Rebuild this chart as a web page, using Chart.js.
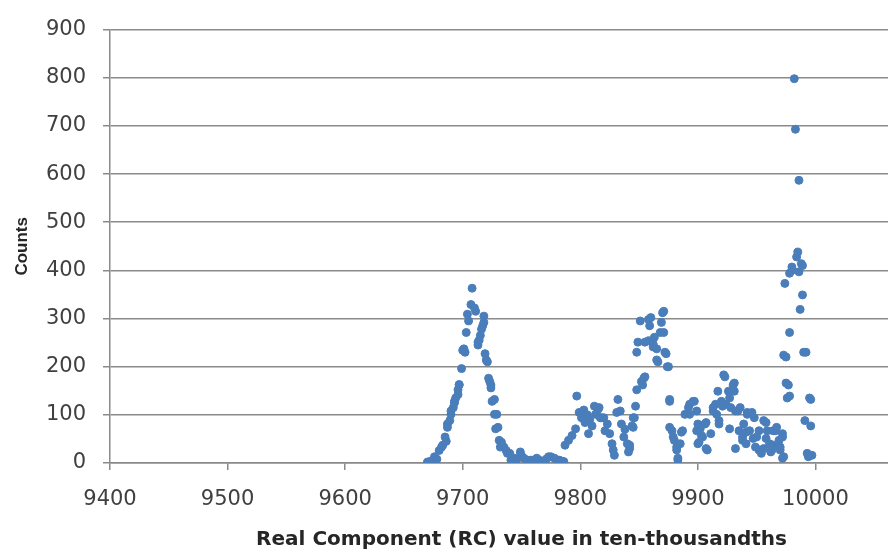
<!DOCTYPE html>
<html>
<head>
<meta charset="utf-8">
<script src="https://cdn.jsdelivr.net/npm/chart.js@4"></script>
<style>
    html, body { margin: 0; padding: 0; background: #fff; overflow: hidden; }
    #wrap { width: 950px; height: 554px; }
</style>
</head>
<body>
<div id="wrap"><canvas id="rcChart" width="950" height="554"></canvas></div>
<script>
// Real Component value (ten-thousandths) and the counts
const rcValues = [
    9670, 9672, 9674, 9676, 9678, 9680, 9682, 9683, 9685, 9686, 9687, 9687, 9689, 9690, 9690, 9692,
    9693, 9693, 9694, 9696, 9696, 9697, 9697, 9699, 9700, 9701, 9702, 9703, 9704, 9705, 9707, 9708,
    9710, 9711, 9713, 9713, 9714, 9715, 9716, 9717, 9718, 9718, 9719, 9720, 9721, 9722, 9723, 9724,
    9724, 9725, 9727, 9727, 9728, 9729, 9730, 9731, 9732, 9733, 9735, 9737, 9738, 9740, 9741,
    9744, 9746, 9749, 9750, 9752, 9755, 9758, 9760, 9763, 9766, 9769, 9771, 9773, 9775, 9778, 9780,
    9782, 9784, 9786, 9787, 9790, 9793, 9796,
    9797, 9799, 9801, 9803, 9804, 9806, 9807, 9808, 9810, 9812, 9813, 9815, 9816, 9817, 9818, 9820,
    9821, 9823, 9825, 9827, 9828, 9829, 9831, 9832, 9834, 9835, 9837, 9838, 9840, 9841, 9842, 9842,
    9844, 9845, 9845, 9846, 9847,
    9848, 9848, 9849, 9851, 9852, 9853, 9854, 9855, 9855, 9858, 9858, 9859, 9860, 9862, 9862, 9863,
    9865, 9865, 9866, 9868, 9869, 9870, 9871, 9871, 9872, 9873, 9874, 9875, 9876, 9876, 9876, 9878,
    9879, 9880, 9882, 9882, 9883, 9883, 9885, 9886, 9887, 9889, 9892, 9893, 9893, 9896, 9897, 9899,
    9899, 9900, 9900, 9901, 9902, 9903,
    9904, 9906, 9907, 9907, 9908, 9911, 9913, 9913, 9915, 9916, 9917, 9918, 9918, 9920, 9921, 9922,
    9923, 9924, 9926, 9927, 9927, 9928, 9930, 9931, 9931, 9932, 9932, 9934, 9935, 9936, 9938, 9938,
    9939, 9941, 9941, 9942, 9942, 9944, 9946, 9947, 9948, 9949, 9950, 9952, 9952, 9954, 9956, 9956,
    9958, 9958, 9959, 9961, 9962, 9963, 9964, 9964,
    9966, 9967, 9969, 9970, 9970, 9972, 9972, 9972, 9973, 9973, 9974, 9975, 9975, 9976, 9977, 9978,
    9978, 9978, 9980, 9980, 9982, 9983, 9984, 9985, 9986, 9986, 9987, 9988, 9989, 9989, 9990, 9991,
    9992, 9993, 9994, 9995, 9996, 9996, 9997
];
const counts = [
    2, 3, 5, 13, 8, 26, 33, 37, 54, 45, 74, 81, 88, 101, 108, 115,
    125, 128, 135, 142, 152, 162, 163, 196, 234, 237, 230, 271, 309, 295, 329, 363,
    322, 315, 245, 251, 255, 265, 278, 285, 305, 292, 227, 214, 210, 176, 169, 162,
    156, 128, 132, 101, 71, 101, 74, 47, 33, 43, 33, 26, 20, 20, 6,
    10, 8, 23, 15, 10, 6, 6, 4, 10, 5, 3, 8, 13, 13, 10, 6,
    6, 4, 3, 37, 47, 57, 71,
    139, 105, 94, 110, 84, 100, 61, 90, 77, 118, 101, 111, 115, 94, 94, 94,
    67, 81, 61, 40, 27, 16, 105, 132, 108, 81, 54, 70, 40, 23, 37, 30,
    77, 74, 94, 94, 118,
    152, 230, 251, 295, 169, 162, 176, 179, 251, 298, 254, 285, 302, 247, 241, 261,
    237, 214, 210, 271, 292, 312, 271, 315, 230, 227, 200, 200, 132, 128, 74, 67,
    54, 47, 33, 27, 6, 10, 40, 64, 67, 101, 115, 122, 101, 128, 128, 108,
    67, 81, 40, 43, 71, 57,
    54, 81, 84, 30, 27, 61, 115, 108, 122, 101, 149, 81, 88, 128, 118, 183,
    179, 122, 149, 135, 71, 115, 162, 166, 149, 108, 30, 108, 67, 115, 54, 47,
    81, 40, 64, 101, 105, 67, 105, 51, 94, 33, 54, 27, 67, 20, 88, 30,
    84, 51, 67, 40, 23, 27, 67, 37,
    67, 74, 47, 27, 33, 10, 54, 61, 13, 224, 373, 220, 166, 135, 162, 139,
    271, 394, 407, 400, 798, 693, 428, 438, 587, 397, 319, 414, 410, 349, 230, 88,
    230, 20, 13, 135, 132, 77, 16
];
const xMin = 9400, xMax = 10100, xStep = 100;
const yMin = 0, yMax = 900, yStep = 100;
const lastXLabel = 10000;

const points = rcValues.map((v, i) => ({ x: v, y: counts[i] }));

const gridGray = '#8a8a8a';
const textGray = '#404040';

const ctx = document.getElementById("rcChart").getContext("2d");
const chart = new Chart(ctx, {
    type: 'scatter',
    data: {
        datasets: [
            {
                label: 'Counts',
                data: points,
                backgroundColor: '#4a7ebb',
                borderColor: '#4a7ebb',
                borderWidth: 1,
                pointRadius: 4,
                pointHoverRadius: 4
            }
        ]
    },
    options: {
        responsive: false,
        animation: false,
        layout: {
            padding: { top: 22, right: 12, bottom: 0, left: 0 }
        },
        scales: {
            x: {
                type: 'linear',
                min: xMin,
                max: xMax,
                afterFit: (scale) => { scale.height = 91; },
                grid: {
                    drawOnChartArea: false,
                    drawTicks: true,
                    tickLength: 7,
                    color: gridGray,
                    lineWidth: 1.5
                },
                border: { display: true, color: gridGray, width: 1.5 },
                ticks: {
                    stepSize: xStep,
                    maxRotation: 0,
                    padding: 17,
                    color: textGray,
                    font: { family: 'DejaVu Sans', size: 21 },
                    callback: (v) => v > lastXLabel ? '' : String(v)
                },
                title: {
                    display: true,
                    text: 'Real Component (RC) value in ten-thousandths',
                    color: '#262626',
                    font: { family: 'DejaVu Sans', size: 20, weight: 'bold' },
                    padding: { top: 0, bottom: 2 }
                }
            },
            y: {
                min: yMin,
                max: yMax,
                afterFit: (scale) => { scale.width = 110; },
                grid: {
                    drawTicks: true,
                    tickLength: 7,
                    color: gridGray,
                    lineWidth: 1.5
                },
                border: { display: true, color: gridGray, width: 1.5 },
                ticks: {
                    stepSize: yStep,
                    padding: 17,
                    color: textGray,
                    font: { family: 'DejaVu Sans', size: 21 }
                },
                title: {
                    display: true,
                    text: 'Counts',
                    color: '#262626',
                    font: { family: 'Liberation Sans', size: 17, weight: 'bold' },
                    padding: { top: 12, bottom: 0 }
                }
            }
        },
        plugins: {
            legend: { display: false },
            tooltip: { enabled: false }
        }
    }
});
</script>
</body>
</html>
